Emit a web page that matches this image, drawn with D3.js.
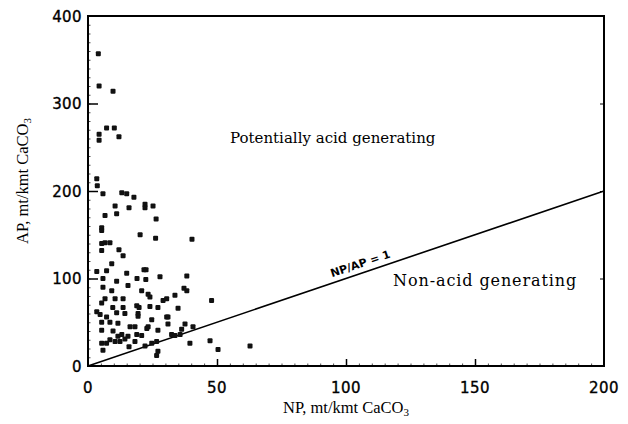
<!DOCTYPE html>
<html>
<head>
<meta charset="utf-8">
<script src="https://cdn.jsdelivr.net/npm/d3@7"></script>
<style>
  body { margin: 0; background: #fff; }
</style>
</head>
<body>
<div id="chart"></div>
<script>
// NP values (x), mt/kmt CaCO3
var np = [4.0, 4.3, 9.7, 4.3, 4.3, 7.2, 10.2, 12.0, 3.4, 3.6,
    5.8, 13.1, 15.0, 17.8, 10.5, 15.9, 22.1, 22.1, 25.2, 6.6,
    11.1, 26.4, 5.3, 5.3, 20.2, 26.2, 40.3, 5.3, 6.6, 8.5,
    5.3, 12.0, 13.6, 9.2, 3.4, 7.2, 21.7, 22.5, 5.8, 11.1,
    15.0, 19.0, 22.4, 27.9, 38.3, 5.8, 9.2, 15.5, 20.8, 23.3,
    24.0, 37.2, 38.3, 33.7, 30.5, 29.1, 6.6, 10.5, 13.6, 5.3,
    9.6, 13.6, 18.9, 19.8, 24.0, 27.1, 34.9, 3.4, 4.7, 7.2,
    11.1, 14.3, 19.4, 19.4, 24.7, 30.5, 31.0, 5.3, 8.5, 11.6,
    16.3, 18.2, 22.8, 23.3, 27.1, 31.0, 37.6, 36.3, 40.7, 5.3,
    9.7, 13.1, 11.6, 15.5, 18.9, 20.8, 32.4, 33.7, 35.7, 5.3,
    7.2, 8.5, 10.5, 12.4, 14.3, 18.2, 24.7, 26.6, 39.5, 47.9,
    47.3, 50.4, 62.8, 5.8, 15.9, 27.1, 26.6, 22.1];

// AP values (y), mt/kmt CaCO3
var ap = [357, 320, 314, 265, 258, 272, 272, 262, 214, 206,
    197, 198, 197, 193, 183, 181, 185, 181, 183, 172,
    174, 168, 158, 155, 150, 146, 145, 140, 141, 141,
    132, 133, 126, 117, 108, 109, 110, 110, 100, 97,
    106, 100, 99, 102, 103, 90, 86, 92, 86, 82,
    79, 89, 86, 81, 77, 75, 77, 77, 77, 72,
    67, 67, 69, 67, 68, 67, 66, 62, 59, 56,
    61, 60, 60, 57, 53, 56, 56, 50, 50, 49,
    45, 45, 43, 45, 41, 48, 48, 42, 45, 41,
    40, 36, 34, 34, 36, 35, 36, 35, 36, 26,
    26, 30, 28, 28, 31, 28, 26, 28, 26, 75,
    29, 19, 23, 18, 22, 17, 12, 23];

var xTicks = [0, 50, 100, 150, 200];
var yTicks = [0, 100, 200, 300, 400];

var width = 628, height = 424;
var plot = { left: 88, right: 604, top: 16, bottom: 366 };

var svg = d3.select("#chart")
    .append("svg")
    .attr("width", width)
    .attr("height", height);

var x = d3.scaleLinear()
    .domain([0, 200])
    .range([plot.left, plot.right]);

var y = d3.scaleLinear()
    .domain([0, 400])
    .range([plot.bottom, plot.top]);

var tickFont = "'DejaVu Sans', sans-serif";
var textFont = "'Liberation Serif', 'Times New Roman', serif";
var regionFont = "'DejaVu Serif', serif";

// minor ticks, inside the frame
svg.append("g")
    .attr("transform", "translate(" + plot.left + ",0)")
    .call(d3.axisRight(y).tickValues(d3.range(0, 401, 10)).tickSize(2.5).tickFormat(""))
    .call(g => g.select(".domain").remove())
    .selectAll("line").attr("stroke-width", 0.7);

svg.append("g")
    .attr("transform", "translate(0," + plot.bottom + ")")
    .call(d3.axisTop(x).tickValues(d3.range(0, 201, 5)).tickSize(2.5).tickFormat(""))
    .call(g => g.select(".domain").remove())
    .selectAll("line").attr("stroke-width", 0.7);

// major ticks
svg.append("g")
    .attr("transform", "translate(" + plot.left + ",0)")
    .call(d3.axisRight(y).tickValues([100, 200, 300]).tickSize(10).tickFormat(""))
    .call(g => g.select(".domain").remove())
    .selectAll("line").attr("stroke-width", 1.5);

svg.append("g")
    .attr("transform", "translate(0," + plot.bottom + ")")
    .call(d3.axisTop(x).tickValues([50, 100, 150]).tickSize(7).tickFormat(""))
    .call(g => g.select(".domain").remove())
    .selectAll("line").attr("stroke-width", 1.5);

svg.append("g")
    .attr("transform", "translate(" + plot.right + ",0)")
    .call(d3.axisLeft(y).tickValues([100, 200, 300]).tickSize(4).tickFormat(""))
    .call(g => g.select(".domain").remove())
    .selectAll("line").attr("stroke-width", 1);

// tick labels
svg.append("g")
    .selectAll("text")
    .data(yTicks)
    .join("text")
    .attr("x", plot.left - 6)
    .attr("y", d => y(d) + 5.5)
    .attr("text-anchor", "end")
    .attr("font-family", tickFont)
    .attr("font-size", "15px")
    .attr("letter-spacing", "0.4px")
    .attr("stroke", "#000")
    .attr("stroke-width", 0.35)
    .text(d => d);

svg.append("g")
    .selectAll("text")
    .data(xTicks)
    .join("text")
    .attr("x", d => x(d))
    .attr("y", plot.bottom + 27)
    .attr("text-anchor", "middle")
    .attr("font-family", tickFont)
    .attr("font-size", "15px")
    .attr("letter-spacing", "0.4px")
    .attr("stroke", "#000")
    .attr("stroke-width", 0.35)
    .text(d => d);

// frame
svg.append("rect")
    .attr("x", plot.left)
    .attr("y", plot.top)
    .attr("width", plot.right - plot.left)
    .attr("height", plot.bottom - plot.top)
    .attr("fill", "none")
    .attr("stroke", "#000")
    .attr("stroke-width", 2);

// NP/AP = 1 line
svg.append("line")
    .attr("x1", x(0))
    .attr("y1", y(0))
    .attr("x2", x(200))
    .attr("y2", y(200))
    .attr("stroke", "#000")
    .attr("stroke-width", 1.6);

var angle = Math.atan2(y(200) - y(0), x(200) - x(0)) * 180 / Math.PI;
var lx = x(106), ly = y(106) - 6;
svg.append("text")
    .attr("transform", "translate(" + lx + "," + ly + ") rotate(" + angle + ")")
    .attr("text-anchor", "middle")
    .attr("font-family", tickFont)
    .attr("font-weight", 700)
    .attr("font-size", "11px")
    .text("NP/AP = 1");

// points
var points = np.map((d, i) => ({ np: d, ap: ap[i] }));
svg.append("g")
    .selectAll("rect")
    .data(points)
    .join("rect")
    .attr("x", d => x(d.np) - 2.5)
    .attr("y", d => y(d.ap) - 2.5)
    .attr("width", 5)
    .attr("height", 5)
    .attr("rx", 1)
    .attr("fill", "#111");

// region labels
svg.append("text")
    .attr("x", 230)
    .attr("y", 143)
    .attr("font-family", regionFont)
    .attr("font-size", "15px")
    .text("Potentially acid generating");

svg.append("text")
    .attr("x", 393)
    .attr("y", 286)
    .attr("font-family", regionFont)
    .attr("font-size", "16px")
    .attr("letter-spacing", "0.9px")
    .text("Non-acid generating");

// axis titles
var xTitle = svg.append("text")
    .attr("x", x(100))
    .attr("y", 413)
    .attr("text-anchor", "middle")
    .attr("font-family", textFont)
    .attr("font-size", "16.5px");
xTitle.append("tspan").text("NP, mt/kmt CaCO");
xTitle.append("tspan").attr("font-size", "11px").attr("dy", 3).text("3");

var yTitle = svg.append("text")
    .attr("transform", "translate(28," + 181 + ") rotate(-90)")
    .attr("text-anchor", "middle")
    .attr("font-family", textFont)
    .attr("font-size", "16.5px");
yTitle.append("tspan").text("AP, mt/kmt CaCO");
yTitle.append("tspan").attr("font-size", "11px").attr("dy", 3).text("3");
</script>
</body>
</html>
